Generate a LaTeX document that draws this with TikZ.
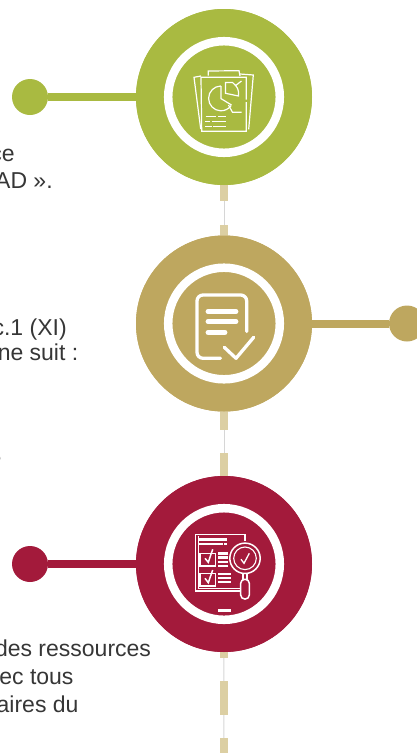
\documentclass[tikz,border=0pt]{standalone}
\usepackage{fontspec}
\setmainfont{Liberation Sans}
\definecolor{cgreen}{HTML}{A9BA41}
\definecolor{cgold}{HTML}{BEA75F}
\definecolor{cred}{HTML}{A31A3B}
\definecolor{cdash}{HTML}{DCCFA3}
\definecolor{cthin}{HTML}{D6D6D6}
\definecolor{ctext}{HTML}{363636}
\tikzset{
  bigdisc/.style={circle,minimum size=176pt,inner sep=0pt,outer sep=0pt,fill=#1},
  enddot/.style={circle,minimum size=36pt,inner sep=0pt,outer sep=0pt,fill=#1},
  arm/.style={draw=#1,line width=8pt},
  ringw/.style={draw=white,line width=8.5pt},
  thinlink/.style={draw=cthin,line width=0.9pt},
  dashbar/.style={fill=cdash},
  body/.style={anchor=base east,inner sep=0pt,outer sep=0pt,text=ctext,font=\fontsize{23}{28}\selectfont},
  ico/.style={draw=white,line width=1.2pt,line join=miter},
  icofat/.style={draw=white,line width=3.3pt,line cap=round,line join=round},
  bar/.style={fill=white}
}
\begin{document}
\begin{tikzpicture}[x=1pt,y=-1pt]
\useasboundingbox (0,0) rectangle (417,753);
\clip (0,0) rectangle (417,753);
\coordinate (bot) at (223.8,753);
\node[bigdisc=cgreen] (c1) at (224,97) {};
\node[bigdisc=cgold] (c2) at (224,323.5) {};
\node[bigdisc=cred] (c3) at (224,564) {};
\node[enddot=cgreen] (d1) at (30,97) {};
\node[enddot=cgold] (d2) at (407,323.5) {};
\node[enddot=cred] (d3) at (30,564) {};
% spine
\draw[thinlink] (c1) -- (c2);
\draw[thinlink] (c2) -- (c3);
\draw[thinlink] (c3) -- (bot);
\fill[dashbar] (220,185) rectangle (227.8,201);
\fill[dashbar] (220,225) rectangle (227.8,236);
\fill[dashbar] (220,411) rectangle (227.8,429.5);
\fill[dashbar] (220,453) rectangle (227.8,477);
\fill[dashbar] (220,651) rectangle (227.8,657.7);
\fill[dashbar] (220,681) rectangle (227.8,714.5);
\fill[dashbar] (220,737.7) rectangle (227.8,753);
% arms
\draw[arm=cgreen] (d1) -- (c1);
\draw[arm=cgold] (c2) -- (d2);
\draw[arm=cred] (d3) -- (c3);
% discs above the bars
\node[bigdisc=cgreen] at (c1) {};
\node[bigdisc=cgold] at (c2) {};
\node[bigdisc=cred] at (c3) {};
% rings
\draw[ringw] (c1) circle[radius=55.8];
\draw[ringw] (c2) circle[radius=55.8];
\draw[ringw] (c3) circle[radius=55.8];
% icon 1
\draw[ico] (246.3,99.5) -- (246.3,77.3) -- (201,77.3) -- (201.7,131.3) -- (246.3,131.3) -- (246.3,102);
\draw[ico] (201,76) -- (194,77.3) -- (200.7,129);
\draw[ico] (240,74) -- (253.3,75) -- (248.7,129.3);
\draw[ico] (208.3,75.5) -- (208.3,71) -- (239,70.7) -- (240,76);
\draw[ico] (221,86) arc[start angle=-90,end angle=-268,radius=12.4] arc[start angle=92,end angle=35,radius=12.4];
\draw[ico] (221,86) -- (221,98.6) -- (231.5,105);
\draw[ico] (233,82.5) -- (225.5,82.5) -- (225.5,93.3) -- (238.5,96) arc[start angle=10,end angle=-55,radius=13];
\draw[ico] (228.5,105) -- (232.5,112.3) -- (241.5,112.3);
\draw[ico] (235,86) -- (241.5,81);
\foreach \a/\b/\yy in {205.5/216/116.3,218.3/226/116.3,205.3/210/121.3,212/226/121.3,205.3/212/126.3,213.3/226/126.3}
  \draw[white,line width=1.1pt] (\a,\yy) -- (\b,\yy);
% icon 2
\draw[icofat] (220.5,358.3) -- (203,358.3) arc[start angle=90,end angle=180,radius=6] -- (197,301) arc[start angle=180,end angle=270,radius=6] -- (240.7,295) arc[start angle=-90,end angle=0,radius=6] -- (246.7,331.5);
\draw[white,line width=4.8pt,line cap=round] (208,311.7) -- (236,311.7) (208,321.7) -- (236,321.7) (208,332.3) -- (225,332.3);
\draw[icofat] (224.3,347.3) -- (236,358.3) -- (253.7,337.3);
% icon 3
\draw[ico] (245,541) -- (245,534.3) -- (195.7,534.3) -- (195.7,591) -- (240,591);
\draw[ico] (198.5,536) -- (198.5,588.3) -- (240,588.3);
\fill[bar] (199,538.3) rectangle (226.7,541.3);
\fill[bar] (199,542.7) rectangle (222.7,545.3);
\fill[bar] (224,542.7) rectangle (226.7,545.3);
\draw[ico] (200,553.3) rectangle (215.7,566);
\draw[ico] (200,573.3) rectangle (215.7,586);
\draw[white,line width=1.5pt] (205,558.3) -- (208.3,562.3) -- (212.7,549.3);
\draw[white,line width=1.5pt] (205,578.3) -- (208.3,582.7) -- (212.7,570);
\foreach \yy in {553.3,557.3,561.7,566}
  \fill[bar] (218.3,\yy-1.2) rectangle (227.5,\yy+1.2);
\foreach \yy in {574,577.7,581.7}
  \fill[bar] (218.3,\yy-1.2) rectangle (231,\yy+1.2);
\draw[white,line width=1.5pt] (245,558.3) circle[radius=15.2];
\draw[white,line width=1.1pt] (245,558.3) circle[radius=11.3];
\draw[white,line width=1.3pt] (241,559.3) -- (244,563.3) -- (249.3,553.3);
\draw[white,line width=1.2pt] (243,574) -- (243,579.5) (247,574) -- (247,579.5);
\draw[white,line width=1.5pt,rounded corners=4pt] (240.7,579.3) rectangle (249.3,599);
\fill[bar] (218,609.3) rectangle (231,612);
% texts
\node[body] (t1) at (14.7,161.7) {ce};
\node[body] (t2) at (52.7,188) {AD ».};
\node[body] (t3) at (66.7,335) {c.1 (XI)};
\node[body] (t4) at (78.3,360.5) {ne suit :};
\node[body] (t5) at (1.5,465.5) {e};
\node[body] (t6) at (151,656.7) {des ressources};
\node[body] (t7) at (73.5,684) {ec tous};
\node[body] (t8) at (78.5,712) {aires du};
\end{tikzpicture}
\end{document}
